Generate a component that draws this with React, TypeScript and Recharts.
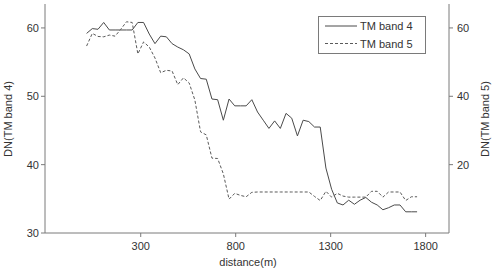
import { Line, LineChart, XAxis, YAxis } from "recharts";

// distance along the transect (m), one sample per 30 m
const distances = [
  15, 45, 75, 105, 135, 165, 195, 225, 255, 285, 315, 345, 375, 405, 435, 465, 495, 525, 555, 585,
  615, 645, 675, 705, 735, 765, 795, 825, 855, 885, 915, 945, 975, 1005, 1035, 1065, 1095, 1125,
  1155, 1185, 1215, 1245, 1275, 1305, 1335, 1365, 1395, 1425, 1455, 1485, 1515, 1545, 1575, 1605,
  1635, 1665, 1695, 1725, 1755,
];

// DN values, TM band 4 (left axis)
const band4 = [
  59.2, 59.9, 59.8, 60.8, 59.7, 59.7, 59.7, 59.7, 59.7, 60.8, 60.8, 59.1, 57.7, 58.8, 58.7, 57.7,
  57.2, 56.8, 56.2, 54.0, 52.6, 52.5, 49.6, 49.5, 46.5, 49.6, 48.6, 48.6, 48.6, 49.5, 47.7, 46.5,
  45.3, 46.4, 45.3, 47.5, 46.8, 44.2, 46.5, 46.3, 45.5, 45.5, 39.5, 36.4, 34.4, 34.1, 34.8, 34.2,
  34.8, 35.2, 34.5, 34.1, 33.4, 33.7, 34.1, 34.1, 33.1, 33.1, 33.1,
];

// DN values, TM band 5 (right axis)
const band5 = [
  54.7, 58.4, 57.5, 57.4, 57.9, 57.6, 59.6, 61.8, 61.6, 52.4, 55.9, 54.4, 51.2, 46.9, 47.6, 47.4,
  43.4, 45.4, 43.9, 38.9, 29.6, 28.7, 21.9, 21.8, 17.3, 9.9, 11.6, 11.0, 10.6, 11.9, 12.0, 12.0,
  12.0, 12.0, 12.0, 12.0, 12.0, 12.0, 12.0, 12.0, 10.7, 9.5, 12.2, 10.5, 11.6, 10.8, 10.5, 10.5,
  10.5, 10.5, 12.2, 12.2, 10.5, 12.0, 12.0, 12.0, 9.5, 10.6, 10.6,
];

const distanceTicks = [300, 800, 1300, 1800];
const band4Ticks = [30, 40, 50, 60];
const band5Ticks = [20, 40, 60];

const rows = distances.map((distance, i) => ({
  distance,
  band4: band4[i],
  band5: band5[i],
}));

const FONT = "'Liberation Sans', Arial, sans-serif";
const AXIS = "#7a7a7a";
const TEXT = "#333";
const tickStyle = { fontSize: 11, fill: TEXT, fontFamily: FONT };

// boxed key in the upper right of the plot
function BandKey() {
  const left = 318;
  const top = 16;
  return (
    <g>
      <rect x={left + 0.5} y={top + 0.5} width={107} height={37} fill="#fff" stroke={AXIS} />
      <line x1={left + 7} y1={top + 10} x2={left + 39} y2={top + 10} stroke="#4a4a4a" />
      <text x={left + 42} y={top + 14} fontSize={11} fontFamily={FONT} fill={TEXT}>
        TM band 4
      </text>
      <line
        x1={left + 7}
        y1={top + 27.5}
        x2={left + 39}
        y2={top + 27.5}
        stroke="#5a5a5a"
        strokeDasharray="3 2"
      />
      <text x={left + 42} y={top + 31.5} fontSize={11} fontFamily={FONT} fill={TEXT}>
        TM band 5
      </text>
    </g>
  );
}

export default function App() {
  return (
    <div style={{ position: "absolute", left: 0, top: 0, width: 495, height: 270, background: "#fff" }}>
      <LineChart width={495} height={270} data={rows} margin={{ top: 4, right: 16, bottom: 15, left: 10 }}>
        <XAxis
          dataKey="distance"
          type="number"
          domain={[-204, 1923]}
          ticks={distanceTicks}
          allowDataOverflow
          height={22}
          tickSize={4}
          tickMargin={5}
          stroke={AXIS}
          tick={tickStyle}
        />
        <XAxis
          xAxisId="top"
          orientation="top"
          type="number"
          domain={[-204, 1923]}
          height={0}
          tick={false}
          tickLine={false}
          stroke={AXIS}
        />
        <YAxis
          yAxisId="left"
          domain={[30, 63.5]}
          ticks={band4Ticks}
          allowDataOverflow
          width={35}
          tickSize={4}
          tickMargin={2}
          stroke={AXIS}
          tick={tickStyle}
        />
        <YAxis
          yAxisId="right"
          orientation="right"
          domain={[0, 67]}
          ticks={band5Ticks}
          allowDataOverflow
          width={30}
          tickSize={4}
          tickMargin={4}
          stroke={AXIS}
          tick={tickStyle}
        />
        <Line
          yAxisId="left"
          dataKey="band4"
          stroke="#4a4a4a"
          strokeWidth={1}
          dot={false}
          isAnimationActive={false}
        />
        <Line
          yAxisId="right"
          dataKey="band5"
          stroke="#5a5a5a"
          strokeWidth={1}
          strokeDasharray="3 2"
          dot={false}
          isAnimationActive={false}
        />
        <BandKey />
        <text
          x={11.5}
          y={119}
          transform="rotate(-90 11.5 119)"
          textAnchor="middle"
          fontSize={11}
          fontFamily={FONT}
          fill={TEXT}
        >
          DN(TM band 4)
        </text>
        <text
          x={489}
          y={119}
          transform="rotate(-90 489 119)"
          textAnchor="middle"
          fontSize={11}
          fontFamily={FONT}
          fill={TEXT}
        >
          DN(TM band 5)
        </text>
        <text x={248} y={266} textAnchor="middle" fontSize={11} fontFamily={FONT} fill={TEXT}>
          distance(m)
        </text>
      </LineChart>
    </div>
  );
}
